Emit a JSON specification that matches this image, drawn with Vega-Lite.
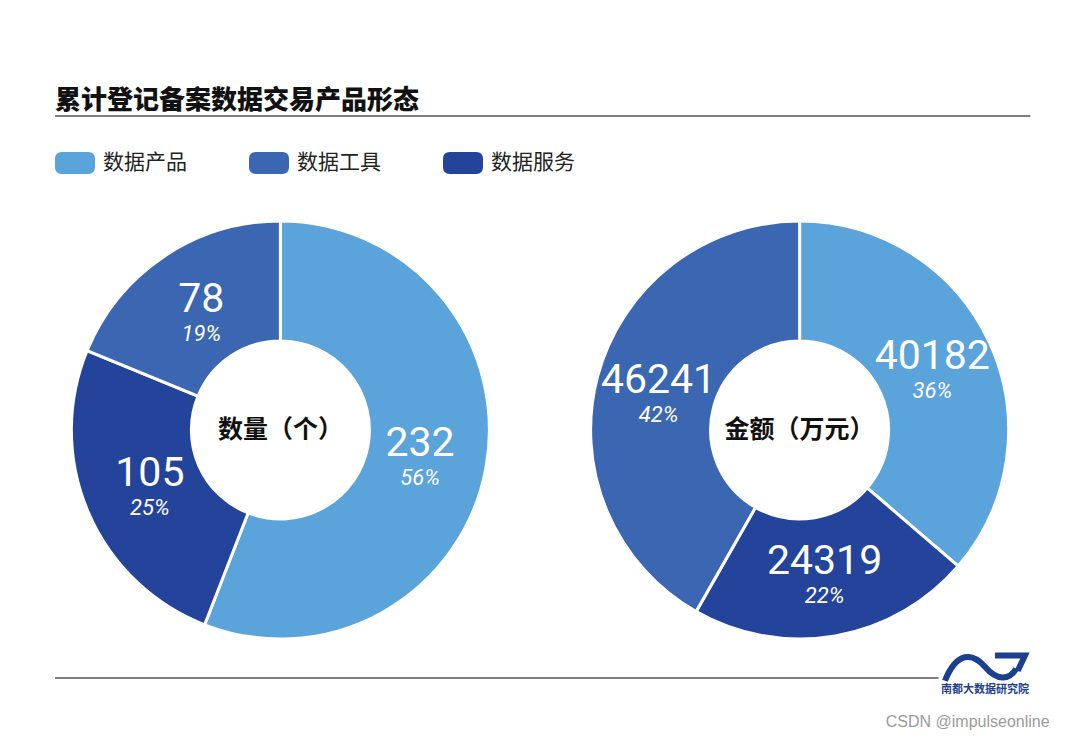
{
  "$schema": "https://vega.github.io/schema/vega-lite/v6.json",
  "width": 1080,
  "height": 628,
  "autosize": {"type": "none"},
  "padding": {"left": 0, "top": 116, "right": 0, "bottom": 0},
  "background": "white",
  "config": {"view": {"stroke": null}},
  "title": {
    "text": "累计登记备案数据交易产品形态",
    "anchor": "start",
    "frame": "group",
    "dx": 55,
    "dy": 26,
    "offset": 6,
    "baseline": "alphabetic",
    "font": "Noto Sans CJK SC",
    "fontSize": 26,
    "fontWeight": 900,
    "color": "#111111"
  },
  "datasets": {
    "slices": [
      {"指标": "数量", "类型": "数据产品", "值": 232, "占比": "56%", "序": 1},
      {"指标": "数量", "类型": "数据服务", "值": 105, "占比": "25%", "序": 2},
      {"指标": "数量", "类型": "数据工具", "值": 78, "占比": "19%", "序": 3},
      {"指标": "金额", "类型": "数据产品", "值": 40182, "占比": "36%", "序": 1},
      {"指标": "金额", "类型": "数据服务", "值": 24319, "占比": "22%", "序": 2},
      {"指标": "金额", "类型": "数据工具", "值": 46241, "占比": "42%", "序": 3}
    ],
    "centers": [
      {"指标": "数量", "标签": "数量（个）"},
      {"指标": "金额", "标签": "金额（万元）"}
    ]
  },
  "layer": [
    {
      "data": {"name": "slices"},
      "transform": [{"filter": "datum['指标'] === '数量'"}],
      "encoding": {
        "theta": {"field": "值", "type": "quantitative", "stack": true},
        "order": {"field": "序", "type": "quantitative"},
        "detail": {"field": "类型"},
        "x": {"field": "指标", "type": "nominal", "axis": null, "scale": {"type": "point", "domain": ["数量", "金额"], "padding": 0.54}}
      },
      "layer": [
        {
          "mark": {"type": "arc", "outerRadius": 209, "innerRadius": 89, "stroke": "white", "strokeWidth": 3},
          "encoding": {
            "color": {
              "field": "类型", "type": "nominal",
              "scale": {"domain": ["数据产品", "数据工具", "数据服务"], "range": ["#5ba3db", "#3a66b2", "#23449a"]},
              "legend": {
                "title": null, "orient": "none", "legendX": 55, "legendY": 27, "direction": "horizontal", "columns": 3,
                "symbolType": "M-0.66,-0.55 L0.66,-0.55 Q1,-0.55 1,-0.2 L1,0.2 Q1,0.55 0.66,0.55 L-0.66,0.55 Q-1,0.55 -1,0.2 L-1,-0.2 Q-1,-0.55 -0.66,-0.55 Z",
                "symbolSize": 1600, "symbolStrokeWidth": 0, "symbolOpacity": 1,
                "labelFont": "Noto Sans CJK SC", "labelFontSize": 21, "labelColor": "#222222", "labelOffset": 8,
                "columnPadding": 62, "labelLimit": 200
              }
            }
          }
        },
        {
          "mark": {"type": "text", "radius": 142, "dy": -12, "font": "Roboto", "fontSize": 41, "color": "white", "align": "center", "baseline": "middle"},
          "encoding": {"text": {"field": "值", "type": "nominal"}}
        },
        {
          "mark": {"type": "text", "radius": 142, "dy": 22, "font": "Roboto", "fontSize": 22, "fontStyle": "italic", "color": "white", "align": "center", "baseline": "middle"},
          "encoding": {"text": {"field": "占比", "type": "nominal"}}
        }
      ]
    },
    {
      "data": {"name": "slices"},
      "transform": [{"filter": "datum['指标'] === '金额'"}],
      "encoding": {
        "theta": {"field": "值", "type": "quantitative", "stack": true},
        "order": {"field": "序", "type": "quantitative"},
        "detail": {"field": "类型"},
        "x": {"field": "指标", "type": "nominal", "axis": null, "scale": {"type": "point", "domain": ["数量", "金额"], "padding": 0.54}}
      },
      "layer": [
        {
          "mark": {"type": "arc", "outerRadius": 209, "innerRadius": 89, "stroke": "white", "strokeWidth": 3},
          "encoding": {
            "color": {"field": "类型", "type": "nominal"}
          }
        },
        {
          "mark": {"type": "text", "radius": 146, "dy": -12, "font": "Roboto", "fontSize": 41, "color": "white", "align": "center", "baseline": "middle"},
          "encoding": {"text": {"field": "值", "type": "nominal"}}
        },
        {
          "mark": {"type": "text", "radius": 146, "dy": 22, "font": "Roboto", "fontSize": 22, "fontStyle": "italic", "color": "white", "align": "center", "baseline": "middle"},
          "encoding": {"text": {"field": "占比", "type": "nominal"}}
        }
      ]
    },
    {
      "data": {"name": "centers"},
      "mark": {"type": "text", "font": "Noto Sans CJK SC", "fontSize": 25, "fontWeight": "bold", "color": "#111111", "align": "center", "baseline": "middle"},
      "encoding": {
        "x": {"field": "指标", "type": "nominal", "axis": null, "scale": {"type": "point", "domain": ["数量", "金额"], "padding": 0.54}},
        "text": {"field": "标签", "type": "nominal"}
      }
    },
    {
      "data": {"values": [{}]},
      "mark": {"type": "rule", "color": "#555555", "strokeWidth": 1.5},
      "encoding": {
        "x": {"datum": 0.051, "type": "quantitative", "axis": null, "scale": {"domain": [0, 1]}},
        "x2": {"datum": 0.954},
        "y": {"datum": 1, "type": "quantitative", "axis": null, "scale": {"domain": [0, 1]}}
      }
    },
    {
      "data": {"values": [{}]},
      "mark": {"type": "rule", "color": "#555555", "strokeWidth": 1.5},
      "encoding": {
        "x": {"datum": 0.051, "type": "quantitative", "axis": null, "scale": {"domain": [0, 1]}},
        "x2": {"datum": 0.869},
        "y": {"datum": 0.105, "type": "quantitative", "axis": null, "scale": {"domain": [0, 1]}}
      }
    },
    {
      "data": {"values": [{}]},
      "mark": {"type": "point", "shape": "M-1,0.35 C-0.7,-0.4 -0.3,-0.35 0,0 C0.3,0.35 0.6,0.35 0.78,0.05 M0.25,-0.28 L1,-0.28 L0.82,0.1", "size": 6400, "filled": false, "stroke": "#1c3f8e", "strokeWidth": 6, "opacity": 1},
      "encoding": {
        "x": {"datum": 0.912, "type": "quantitative", "axis": null, "scale": {"domain": [0, 1]}},
        "y": {"datum": 0.123, "type": "quantitative", "axis": null, "scale": {"domain": [0, 1]}}
      }
    },
    {
      "data": {"values": [{}]},
      "mark": {"type": "text", "text": "南都大数据研究院", "font": "Noto Sans CJK SC", "fontSize": 11, "fontWeight": "bold", "color": "#1c3f8e", "align": "center", "baseline": "middle"},
      "encoding": {
        "x": {"datum": 0.912, "type": "quantitative", "axis": null, "scale": {"domain": [0, 1]}},
        "y": {"datum": 0.086, "type": "quantitative", "axis": null, "scale": {"domain": [0, 1]}}
      }
    },
    {
      "data": {"values": [{}]},
      "mark": {"type": "text", "text": "CSDN @impulseonline", "font": "Liberation Sans", "fontSize": 16, "color": "#9a9a9a", "align": "center", "baseline": "middle"},
      "encoding": {
        "x": {"datum": 0.896, "type": "quantitative", "axis": null, "scale": {"domain": [0, 1]}},
        "y": {"datum": 0.035, "type": "quantitative", "axis": null, "scale": {"domain": [0, 1]}}
      }
    }
  ],
  "resolve": {"scale": {"theta": "independent", "x": "independent", "y": "independent"}}
}
